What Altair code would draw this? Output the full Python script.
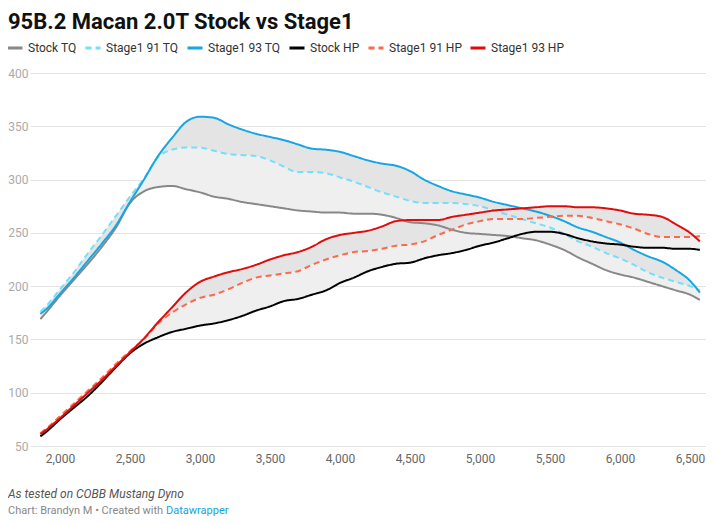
import altair as alt
import pandas as pd

rpm = [1860, 1900, 2000, 2100, 2200, 2300, 2400, 2500, 2600, 2700, 2800, 2900,
       3000, 3100, 3200, 3300, 3400, 3500, 3600, 3700, 3800, 3900, 4000, 4100,
       4200, 4300, 4400, 4500, 4600, 4700, 4800, 4900, 5000, 5100, 5200, 5300,
       5400, 5500, 5600, 5700, 5800, 5900, 6000, 6100, 6200, 6300, 6400, 6500, 6570]

stock_tq = [169, 175, 191, 206, 221, 237, 255, 278, 289, 293, 294, 291,
            288, 284, 282, 279, 277, 275, 273, 271, 270, 269, 269, 268,
            268, 267, 264, 260, 259, 257, 253, 250, 249, 248, 247, 245,
            243, 239, 234, 227, 221, 215, 211, 208, 204, 200, 196, 192, 187]

s91_tq = [176, 181, 197, 213, 231, 248, 266, 284, 301, 321, 328, 330,
          330, 327, 324, 323, 322, 318, 312, 307, 307, 306, 302, 298,
          293, 288, 284, 280, 278, 278, 278, 277, 275, 271, 267, 263,
          259, 255, 249, 242, 237, 231, 226, 220, 213, 208, 204, 200, 196]

s93_tq = [174, 178, 193, 208, 224, 240, 257, 279, 300, 322, 339, 354,
          359, 358, 352, 347, 343, 340, 337, 333, 329, 328, 326, 322,
          318, 315, 313, 308, 300, 294, 289, 286, 283, 279, 276, 273,
          270, 266, 261, 255, 251, 246, 241, 234, 228, 223, 215, 205, 194]

stock_hp = [59, 63, 75, 86, 97, 110, 124, 137, 146, 152, 157, 160,
            163, 165, 168, 172, 177, 181, 186, 188, 192, 196, 203, 208,
            214, 218, 221, 222, 226, 229, 231, 234, 238, 241, 245, 249,
            251, 251, 249, 245, 242, 240, 239, 237, 236, 236, 235, 235, 234]

s91_hp = [62, 66, 78, 90, 102, 114, 127, 139, 150, 165, 175, 183,
          189, 192, 197, 203, 208, 210, 212, 214, 220, 225, 229, 232,
          233, 235, 238, 239, 242, 248, 253, 258, 261, 263, 263, 263,
          264, 265, 266, 266, 264, 261, 258, 254, 249, 246, 246, 246, 247]

s93_hp = [61, 65, 76, 88, 100, 112, 125, 138, 151, 166, 180, 194,
          204, 209, 213, 216, 220, 225, 229, 232, 237, 244, 248, 250,
          252, 256, 261, 262, 262, 262, 265, 267, 269, 271, 272, 273,
          274, 275, 275, 274, 274, 273, 271, 268, 267, 265, 258, 250, 242]

series_names = ["Stock TQ", "Stage1 91 TQ", "Stage1 93 TQ", "Stock HP", "Stage1 91 HP", "Stage1 93 HP"]
series_colors = ["#888888", "#72e0f9", "#15a6e3", "#000000", "#fa6a4c", "#e00b0b"]
series_dash = [[1, 0], [6, 4], [1, 0], [1, 0], [6, 4], [1, 0]]
series_values = [stock_tq, s91_tq, s93_tq, stock_hp, s91_hp, s93_hp]

y_ticks = [50, 100, 150, 200, 250, 300, 350, 400]
x_ticks = [2000, 2500, 3000, 3500, 4000, 4500, 5000, 5500, 6000, 6500]

title_text = "95B.2 Macan 2.0T Stock vs Stage1"
note_text = "As tested on COBB Mustang Dyno"
credit_text = "Chart: Brandyn M • Created with"
link_text = "Datawrapper"

wide = pd.DataFrame({"rpm": rpm, "stock_tq": stock_tq, "s91_tq": s91_tq, "s93_tq": s93_tq,
                     "stock_hp": stock_hp, "s91_hp": s91_hp, "s93_hp": s93_hp})
long = pd.concat([pd.DataFrame({"rpm": rpm, "value": v, "series": n})
                  for n, v in zip(series_names, series_values)], ignore_index=True)

W, H = 676, 373
xscale = alt.Scale(domain=[1786, 6614], nice=False, zero=False)
yscale = alt.Scale(domain=[50, 400], nice=False, zero=False)

xaxis = alt.Axis(values=x_ticks, labelExpr="format(datum.value, ',')", title=None, grid=False,
                 domain=False, ticks=False, tickSize=0, labelPadding=7, labelFontSize=12,
                 labelColor="#666666", labelFont="Roboto")
yaxis = alt.Axis(values=y_ticks, title=None, grid=True, gridColor="#e3e3e3", domain=False, ticks=False,
                 tickSize=0, labelPadding=2, labelFontSize=12, labelColor="#aaaaaa", labelFont="Roboto")

base = alt.Chart(wide)

def band(lo, hi, color):
    return base.mark_area(color=color, opacity=1, interpolate="monotone").encode(
        x=alt.X("rpm:Q", scale=xscale, axis=xaxis),
        y=alt.Y(f"{lo}:Q", scale=yscale, axis=yaxis),
        y2=alt.Y2(f"{hi}:Q"),
    )

light = "#efefef"
dark = "#e4e4e4"
areas = [band("stock_tq", "s91_tq", light), band("s91_tq", "s93_tq", dark),
         band("stock_hp", "s91_hp", light), band("s91_hp", "s93_hp", dark)]

lines = alt.Chart(long).mark_line(strokeWidth=2, interpolate="monotone").encode(
    x=alt.X("rpm:Q", scale=xscale, axis=xaxis),
    y=alt.Y("value:Q", scale=yscale, axis=yaxis),
    color=alt.Color("series:N", scale=alt.Scale(domain=series_names, range=series_colors),
                    legend=alt.Legend(title=None)),
    strokeDash=alt.StrokeDash("series:N", scale=alt.Scale(domain=series_names, range=series_dash),
                              legend=alt.Legend(title=None)),
    order=alt.Order("rpm:Q"),
)

def label(text, x, y, size, color, weight="normal", style="normal", baseline="middle"):
    return alt.Chart(pd.DataFrame({"t": [text]})).mark_text(
        align="left", baseline=baseline, font="Roboto", fontSize=size, fontWeight=weight,
        fontStyle=style, color=color
    ).encode(text="t:N", x=alt.value(x), y=alt.value(y))

title = label(title_text, -22, -44, 22, "#111111", weight="bold", baseline="alphabetic")
foot1 = label(note_text, -22, 421, 12, "#555555", style="italic")
foot2 = label(credit_text, -22, 438, 11, "#888888")
foot3 = label(link_text, 136, 438, 11, "#1a9fd8")

chart = alt.layer(*areas, lines, title, foot1, foot2, foot3).properties(
    width=W, height=H,
    autosize=alt.AutoSizeParams(type="none"),
    padding={"left": 22, "top": 65, "right": 0, "bottom": 70},
).configure_view(stroke=None).configure_legend(
    orient="none", legendX=-24, legendY=-34, direction="horizontal",
    symbolType="stroke", symbolStrokeWidth=3, symbolSize=225,
    labelFont="Roboto", labelFontSize=12, labelColor="#333333",
    labelOffset=4, columnPadding=2, padding=0,
)

chart.save("out.html", embed_options={"renderer": "svg", "actions": False})
